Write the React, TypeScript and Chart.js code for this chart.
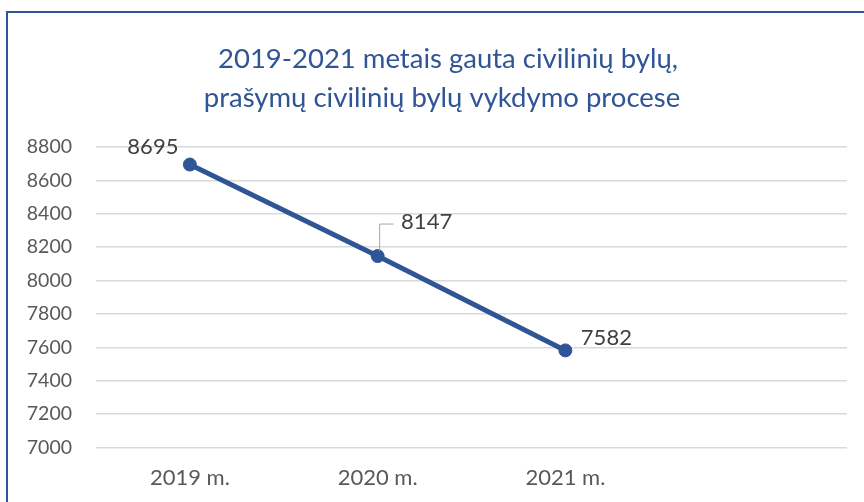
import React, { useEffect, useRef } from "react";
import { Chart, registerables } from "chart.js";

Chart.register(...registerables);

const categories = ["2019 m.", "2020 m.", "2021 m.", ""];
const values: (number | null)[] = [8695, 8147, 7582, null];
const titleLines = ["2019-2021 metais gauta civilinių bylų,", "prašymų civilinių bylų vykdymo procese"];
const yMin = 7000;
const yMax = 8800;
const yStep = 200;

const FONT = "Lato, 'Open Sans', sans-serif";
const BLUE = "#2F5597";
const GRAY_TEXT = "#595959";

const titlePlugin = {
  id: "twoLineTitle",
  afterDraw(chart: any) {
    const ctx = chart.ctx;
    ctx.save();
    ctx.font = `27.5px ${FONT}`;
    ctx.fillStyle = BLUE;
    ctx.textAlign = "center";
    ctx.textBaseline = "alphabetic";
    ctx.fillText(titleLines[0], 448, 68);
    ctx.fillText(titleLines[1], 442, 107);
    ctx.restore();
  },
};

const labelPlugin = {
  id: "pointLabels",
  afterDatasetsDraw(chart: any) {
    const ctx = chart.ctx;
    const meta = chart.getDatasetMeta(0);
    const offsets = [
      { dx: -37, dy: -18 },
      { dx: 49, dy: -34, leader: true },
      { dx: 41, dy: -12 },
    ];
    ctx.save();
    ctx.font = `22px ${FONT}`;
    ctx.fillStyle = "#404040";
    ctx.textAlign = "center";
    ctx.textBaseline = "middle";
    meta.data.forEach((pt: any, i: number) => {
      const v = values[i];
      if (v == null || !offsets[i]) return;
      const o: any = offsets[i];
      const tx = pt.x + o.dx;
      const ty = pt.y + o.dy;
      if (o.leader) {
        ctx.strokeStyle = "#A6A6A6";
        ctx.lineWidth = 1;
        ctx.beginPath();
        ctx.moveTo(pt.x + 2, pt.y - 5);
        ctx.lineTo(pt.x + 2, ty + 2);
        ctx.lineTo(tx - 33, ty + 2);
        ctx.stroke();
      }
      ctx.fillText(String(v), tx, ty);
    });
    ctx.restore();
  },
};

export default function App() {
  const ref = useRef<HTMLCanvasElement | null>(null);
  useEffect(() => {
    if (!ref.current) return;
    const chart = new Chart(ref.current, {
      type: "line",
      data: {
        labels: categories,
        datasets: [
          {
            data: values,
            borderColor: BLUE,
            backgroundColor: BLUE,
            borderWidth: 5,
            pointRadius: 6.5,
            pointBackgroundColor: BLUE,
            pointBorderColor: BLUE,
            pointBorderWidth: 1,
            tension: 0,
          },
        ],
      },
      options: {
        responsive: false,
        animation: false,
        layout: { padding: { left: 10, right: 17, top: 147, bottom: 2 } },
        plugins: {
          legend: { display: false },
          tooltip: { enabled: false },
          title: { display: false },
        },
        scales: {
          x: {
            offset: true,
            grid: { display: false },
            border: { display: false },
            ticks: { color: GRAY_TEXT, font: { family: FONT, size: 22 }, padding: 9, maxRotation: 0 },
          },
          y: {
            min: yMin,
            max: yMax,
            border: { display: false },
            grid: { color: "#D9D9D9", lineWidth: 1.5, drawTicks: false },
            ticks: {
              stepSize: yStep,
              color: GRAY_TEXT,
              font: { family: FONT, size: 19.5 },
              padding: 24,
              callback: (v: any) => String(v),
            },
            afterFit(scale: any) {
              scale.width = 86;
            },
          },
        },
      },
      plugins: [labelPlugin, titlePlugin],
    });
    return () => chart.destroy();
  }, []);

  return (
    <div style={{ position: "fixed", left: 0, top: 0, width: 864, height: 502, overflow: "hidden", background: "#fff" }}>
      <div
        style={{
          position: "absolute",
          left: 6,
          top: 11,
          width: 1000,
          height: 1000,
          border: `2px solid ${BLUE}`,
          boxSizing: "border-box",
        }}
      />
      <canvas ref={ref} width={864} height={502} style={{ position: "absolute", left: 0, top: 0 }} />
    </div>
  );
}
